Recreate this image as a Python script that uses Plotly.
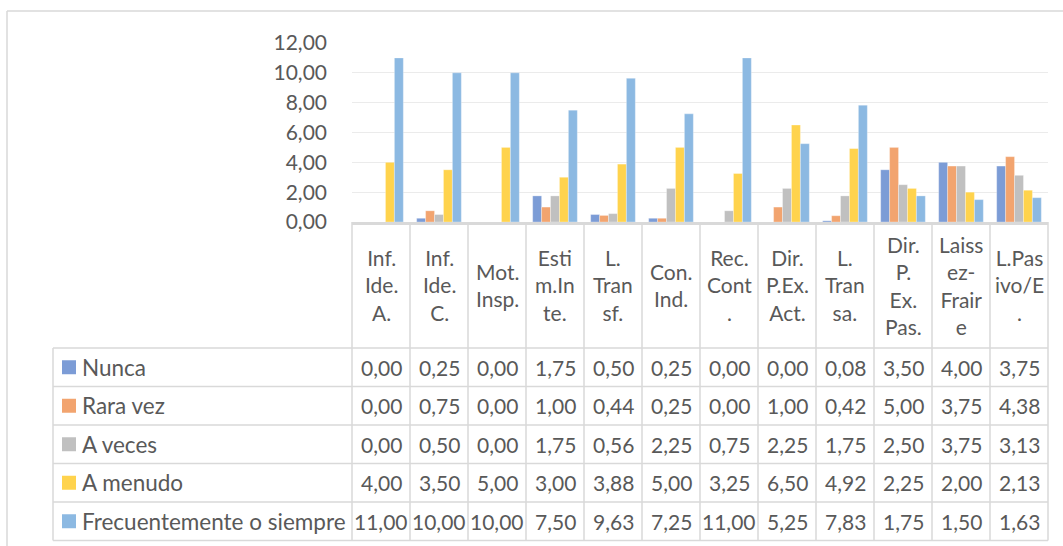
import plotly.graph_objects as go

# Category labels (wrapped as they appear in the data-table header)
categories = [
    "Inf.<br>Ide.<br>A.",
    "Inf.<br>Ide.<br>C.",
    "Mot.<br>Insp.",
    "Esti<br>m.In<br>te.",
    "L.<br>Tran<br>sf.",
    "Con.<br>Ind.",
    "Rec.<br>Cont<br>.",
    "Dir.<br>P.Ex.<br>Act.",
    "L.<br>Tran<br>sa.",
    "Dir.<br>P.<br>Ex.<br>Pas.",
    "Laiss<br>ez-<br>Frair<br>e",
    "L.Pas<br>ivo/E<br>.",
]

series_names = ["Nunca", "Rara vez", "A veces", "A menudo", "Frecuentemente o siempre"]

nunca = [0.00, 0.25, 0.00, 1.75, 0.50, 0.25, 0.00, 0.00, 0.08, 3.50, 4.00, 3.75]
rara_vez = [0.00, 0.75, 0.00, 1.00, 0.44, 0.25, 0.00, 1.00, 0.42, 5.00, 3.75, 4.38]
a_veces = [0.00, 0.50, 0.00, 1.75, 0.56, 2.25, 0.75, 2.25, 1.75, 2.50, 3.75, 3.13]
a_menudo = [4.00, 3.50, 5.00, 3.00, 3.88, 5.00, 3.25, 6.50, 4.92, 2.25, 2.00, 2.13]
frecuente = [11.00, 10.00, 10.00, 7.50, 9.63, 7.25, 11.00, 5.25, 7.83, 1.75, 1.50, 1.63]

series_values = [nunca, rara_vez, a_veces, a_menudo, frecuente]
series_colors = ["#7C9CD6", "#F2A46F", "#C0C0C0", "#FFD34D", "#8CB9E2"]

W, H = 1063, 546
ML, MR, MT, MB = 352, 15, 43, 324
PW = W - ML - MR
PH = H - MT - MB

FONT = "Lato"
TXT = "#595959"
GRID = "#D9D9D9"


def px(xp):
    return (xp - ML) / PW


def py(yp):
    return (H - MB - yp) / PH


def fmt(v):
    return f"{v:.2f}".replace(".", ",")


fig = go.Figure()
for name, vals, col in zip(series_names, series_values, series_colors):
    fig.add_trace(go.Bar(
        name=name, x=categories, y=vals,
        marker=dict(color=col, line=dict(color="rgba(255,255,255,0.5)", width=0.6)),
        showlegend=False,
    ))

shapes = []
annotations = []

# outer chart frame
shapes.append(dict(type="line", xref="paper", yref="paper",
                   x0=px(7), x1=px(1070), y0=py(11), y1=py(11),
                   line=dict(color=GRID, width=1.5)))
shapes.append(dict(type="line", xref="paper", yref="paper",
                   x0=px(7), x1=px(7), y0=py(11), y1=py(560),
                   line=dict(color=GRID, width=1.5)))

# data table geometry
n = len(categories)
header_top = 222
row_edges = [348, 386.5, 425, 463.5, 502, 540.5]
legend_left = 53

# vertical lines between category columns (header + body)
for i in range(n + 1):
    xv = i / n
    shapes.append(dict(type="line", xref="paper", yref="paper",
                       x0=xv, x1=xv, y0=py(header_top), y1=py(row_edges[-1]),
                       line=dict(color=GRID, width=1.5)))
# legend column left edge
shapes.append(dict(type="line", xref="paper", yref="paper",
                   x0=px(legend_left), x1=px(legend_left),
                   y0=py(row_edges[0]), y1=py(row_edges[-1]),
                   line=dict(color=GRID, width=1.5)))
# horizontal row lines
for ye in row_edges:
    shapes.append(dict(type="line", xref="paper", yref="paper",
                       x0=px(legend_left), x1=1, y0=py(ye), y1=py(ye),
                       line=dict(color=GRID, width=1.5)))

# header labels
header_mid = (header_top + row_edges[0]) / 2
for c in categories:
    annotations.append(dict(x=c, xref="x", y=py(header_mid), yref="paper",
                            text=c, showarrow=False, xanchor="center", yanchor="middle",
                            font=dict(family=FONT, size=21, color=TXT), align="center"))

# body rows: legend key + values
for r, (name, vals, col) in enumerate(zip(series_names, series_values, series_colors)):
    mid = (row_edges[r] + row_edges[r + 1]) / 2
    shapes.append(dict(type="rect", xref="paper", yref="paper",
                       x0=px(62), x1=px(76), y0=py(mid - 7), y1=py(mid + 7),
                       fillcolor=col, line=dict(width=0)))
    annotations.append(dict(x=px(80), xref="paper", y=py(mid), yref="paper",
                            text=name, showarrow=False, xanchor="left", yanchor="middle",
                            font=dict(family=FONT, size=22.5, color=TXT)))
    for c, v in zip(categories, vals):
        annotations.append(dict(x=c, xref="x", y=py(mid), yref="paper",
                                text=fmt(v), showarrow=False, xanchor="center",
                                yanchor="middle",
                                font=dict(family=FONT, size=21, color=TXT)))

fig.update_layout(
    width=W, height=H,
    margin=dict(l=ML, r=MR, t=MT, b=MB),
    paper_bgcolor="white", plot_bgcolor="white",
    barmode="group", bargap=0.23, bargroupgap=0,
    separators=",.",
    font=dict(family=FONT, color=TXT),
    shapes=shapes, annotations=annotations,
    xaxis=dict(showticklabels=False, ticks="", showgrid=False,
               showline=True, linecolor=GRID, linewidth=2.5, zeroline=False),
    yaxis=dict(range=[0, 12], dtick=2, tickformat=".2f",
               showgrid=True, gridcolor="#EBEBEB", gridwidth=1,
               zeroline=False, showline=False, ticks="",
               ticklabelstandoff=24,
               tickfont=dict(family=FONT, size=21, color=TXT)),
)

fig.write_html("out.html")
